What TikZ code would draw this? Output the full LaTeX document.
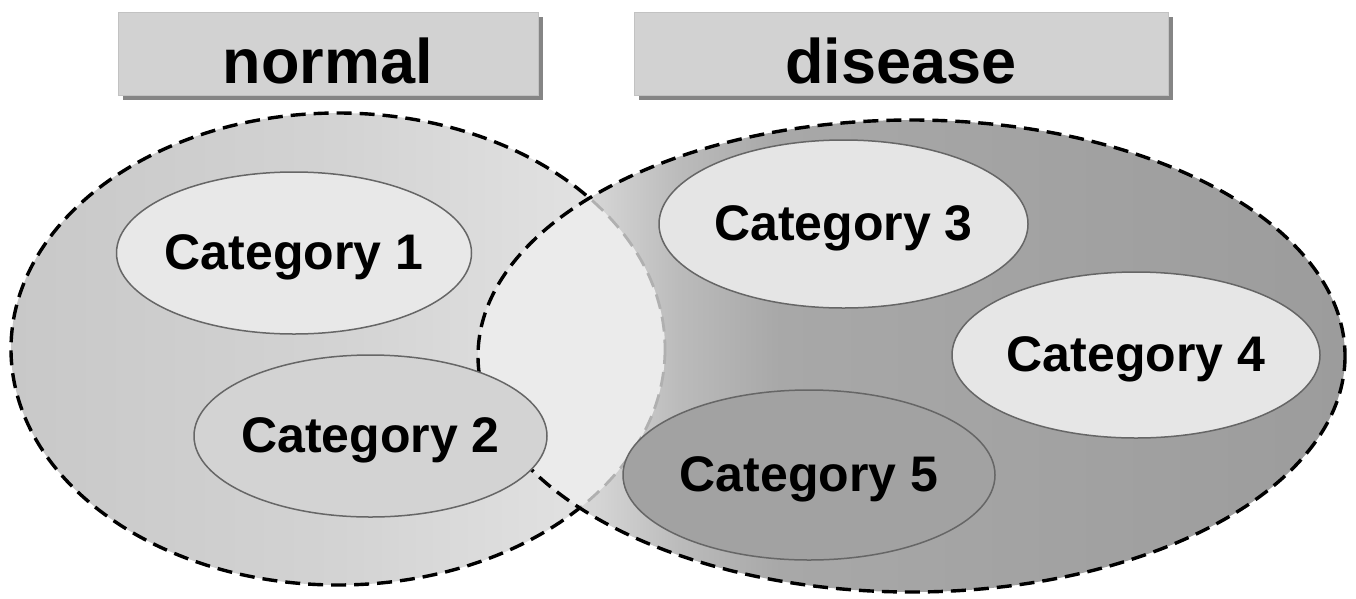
\documentclass[tikz,border=0pt]{standalone}
\usepackage{fontspec}
\setmainfont{Liberation Sans}
\usetikzlibrary{shapes.geometric,shadows}
\definecolor{la}{HTML}{C8C8C8}
\definecolor{lb}{HTML}{D3D3D3}
\definecolor{lc}{HTML}{E6E6E6}
\definecolor{ra}{HTML}{E2E2E2}
\definecolor{rb}{HTML}{D4D4D4}
\definecolor{rc}{HTML}{BBBBBB}
\definecolor{rd}{HTML}{A8A8A8}
\definecolor{re}{HTML}{9C9C9C}
\definecolor{lenscol}{HTML}{EBEBEB}
\definecolor{lightdash}{HTML}{B0B0B0}
\definecolor{catline}{HTML}{666666}
\definecolor{hdrfill}{HTML}{D2D2D2}
\definecolor{hdrline}{HTML}{C2C2C2}
\definecolor{hdrshadow}{HTML}{858585}
\definecolor{cfa}{HTML}{E8E8E8}
\definecolor{cfb}{HTML}{D3D3D3}
\definecolor{cfc}{HTML}{E5E5E5}
\definecolor{cfd}{HTML}{E6E6E6}
\definecolor{cfe}{HTML}{A2A2A2}
\pgfdeclarehorizontalshading{leftbig}{100bp}{color(0bp)=(la); color(25bp)=(la); color(50bp)=(lb); color(75bp)=(lc); color(100bp)=(lc)}
\pgfdeclarehorizontalshading{rightbig}{100bp}{color(0bp)=(ra); color(25bp)=(ra); color(32bp)=(rb); color(36.6bp)=(rc); color(42.4bp)=(rd); color(75bp)=(re); color(100bp)=(re)}
\tikzset{
  bigdash/.style={line width=3.4pt, dash pattern=on 15pt off 8pt},
  cat/.style={ellipse, draw=catline, line width=1.5pt, inner xsep=-40pt, inner ysep=0pt,
    font=\fontsize{50}{60}\selectfont\bfseries, text height=38pt, text depth=6pt},
  hdr/.style={rectangle, draw=hdrline, fill=hdrfill, line width=1pt, minimum height=83pt,
    inner sep=0pt, font=\fontsize{63}{70}\selectfont\bfseries, text height=59pt, text depth=0pt,
    drop shadow={shadow xshift=5pt, shadow yshift=-5pt, fill=hdrshadow, opacity=1}},
}
\begin{document}
\begin{tikzpicture}[x=1pt,y=-1pt]
\useasboundingbox (0,0) rectangle (1356,598);
% left big ellipse
\shade[shading=leftbig] (338,349) ellipse [x radius=327, y radius=236];
\draw[bigdash] (338,349) ellipse [x radius=327, y radius=236];
% right big ellipse
\shade[shading=rightbig] (911.5,356) ellipse [x radius=433.5, y radius=236];
% overlap
\begin{scope}
  \clip (338,349) ellipse [x radius=327, y radius=236];
  \fill[lenscol] (911.5,356) ellipse [x radius=433.5, y radius=236];
\end{scope}
\begin{scope}
  \clip (911.5,356) ellipse [x radius=433.5, y radius=236];
  \draw[bigdash, draw=lightdash, line width=2.8pt] (338,349) ellipse [x radius=327, y radius=236];
\end{scope}
\draw[bigdash] (911.5,356) ellipse [x radius=433.5, y radius=236];
% headers
\node[hdr, minimum width=420pt] (hn) at (328,53.5) {normal};
\node[hdr, minimum width=534pt] (hd) at (901,53.5) {disease};
% categories
\node[cat, fill=cfa, minimum width=355pt, minimum height=162pt] (c1) at (294,253) {Category 1};
\node[cat, fill=cfb, minimum width=353pt, minimum height=162pt] (c2) at (370.5,436) {Category 2};
\node[cat, fill=cfc, minimum width=369pt, minimum height=168pt] (c3) at (843.5,224) {Category 3};
\node[cat, fill=cfd, minimum width=368pt, minimum height=166pt] (c4) at (1136,355) {Category 4};
\node[cat, fill=cfe, minimum width=372pt, minimum height=170pt] (c5) at (809,475) {Category 5};
\end{tikzpicture}
\end{document}
